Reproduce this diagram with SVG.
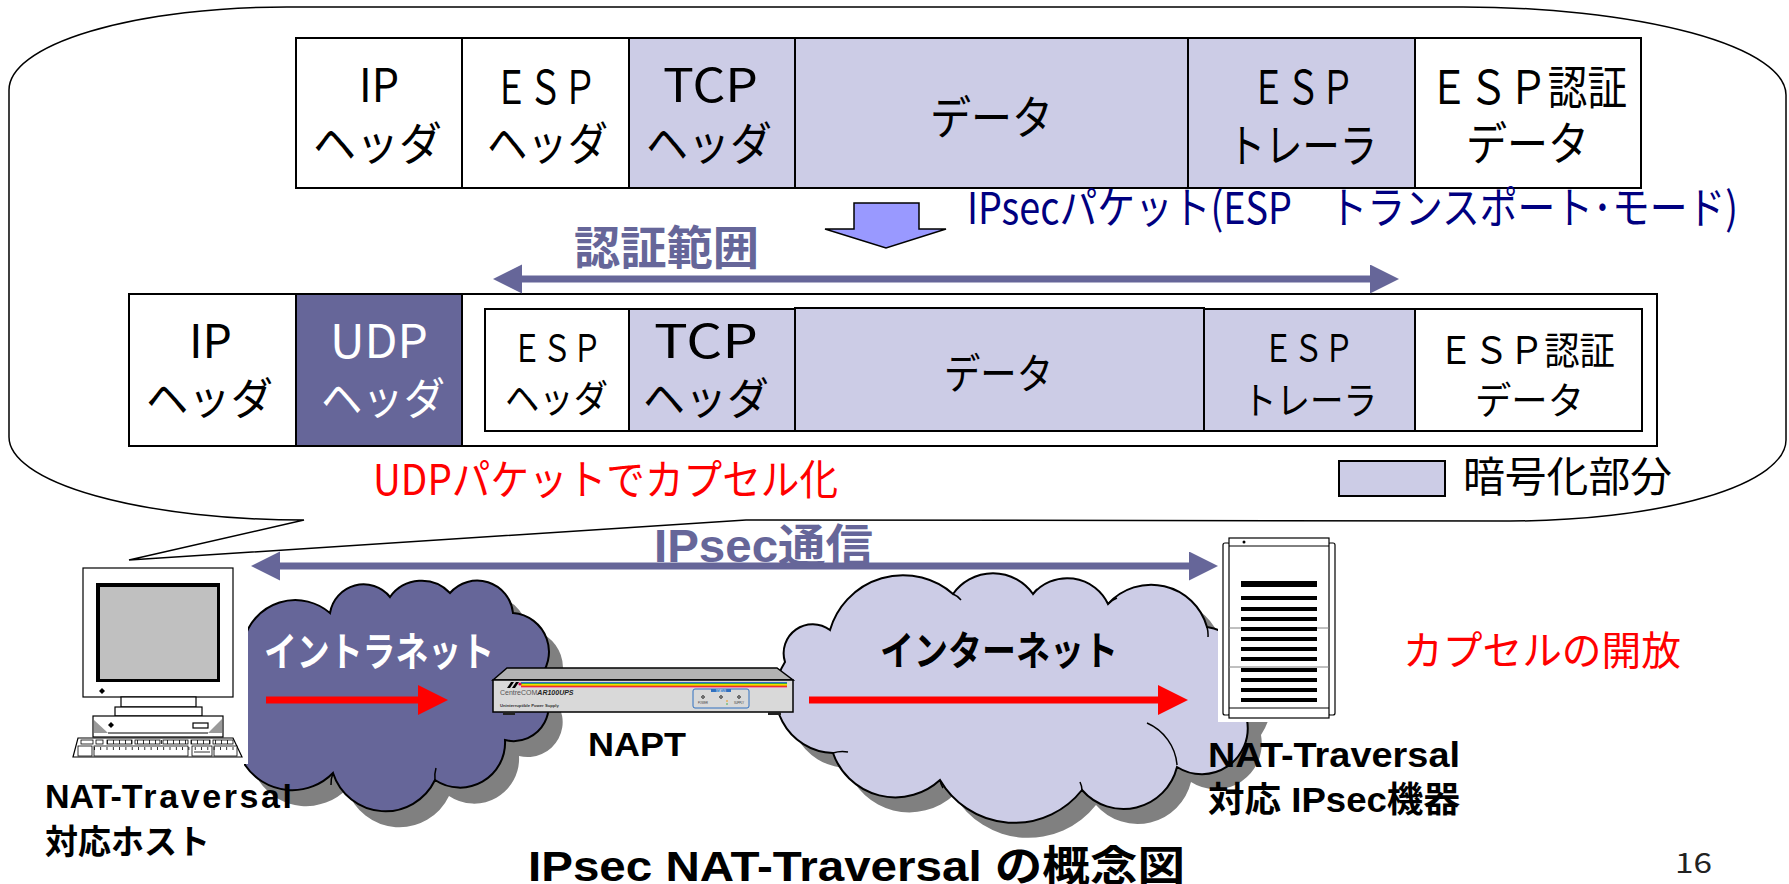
<svg xmlns="http://www.w3.org/2000/svg" width="1789" height="884" viewBox="0 0 1789 884">
<style>
  .cell{stroke:#000;stroke-width:2}
  .enc{fill:#CCCCE6}
  .wh{fill:#fff}
  .jp{font-family:"Noto Sans CJK JP","Liberation Sans",sans-serif}
  .bd{font-family:"Liberation Sans","Noto Sans CJK JP",sans-serif;font-weight:bold}
  .jb{font-family:"Noto Sans CJK JP","Liberation Sans",sans-serif;font-weight:bold}
  .ln{fill:none;stroke:#000;stroke-width:1.5}
  .thin{fill:#fff;stroke:#000;stroke-width:1.2}
</style>
<defs>
  <marker id="headP" markerUnits="userSpaceOnUse" markerWidth="30" markerHeight="30" refX="3" refY="14.5" orient="auto-start-reverse">
    <path d="M0,0 L29,14.5 L0,29 Z" fill="#666699"/>
  </marker>
  <marker id="headR" markerUnits="userSpaceOnUse" markerWidth="31" markerHeight="31" refX="3" refY="15" orient="auto">
    <path d="M0,0 L30,15 L0,30 Z" fill="#FF0000"/>
  </marker>
  <!-- cloud outlines, reused for the drop shadows -->
  <path id="cloudIntra" d="M244,640 A53,53 0 0 1 330,613 A34,34 0 0 1 390,597 A39,39 0 0 1 450,593 A36,36 0 0 1 513,613 A39,39 0 0 1 537,680 A35,35 0 0 1 505,740 A45,45 0 0 1 435,780 A55,55 0 0 1 333,773 A57,57 0 0 1 245,765 Z"/>
  <path id="cloudInet" d="M785,662 A29,29 0 0 1 830,630 A76,76 0 0 1 953,594 A49,49 0 0 1 1033,594 A45,45 0 0 1 1108,604 A58,58 0 0 1 1207,627 A60,60 0 0 1 1247,720 A46,46 0 0 1 1177,767 A55,55 0 0 1 1082,790 A86,86 0 0 1 940,780 A66,66 0 0 1 833,753 A59,59 0 0 1 785,662 Z"/>
</defs>

<rect width="1789" height="884" fill="#fff"/>

<!-- speech bubble holding the packet layouts -->
<g id="callout">
  <path d="M129,560 L304,520 A295,83 0 0 1 9,437 L9,90 A278,83 0 0 1 287,7 L1463,7 A323,88 0 0 1 1786,95 L1786,440 A276,81 0 0 1 1510,521 L746,520 Z" fill="#fff" stroke="#000" stroke-width="1.5"/>
</g>

<!-- ESP transport mode packet -->
<g id="esp-packet">
  <rect class="cell wh" x="296" y="38" width="166" height="150"/>
  <rect class="cell wh" x="462" y="38" width="167" height="150"/>
  <rect class="cell enc" x="629" y="38" width="166" height="150"/>
  <rect class="cell enc" x="795" y="38" width="393" height="150"/>
  <rect class="cell enc" x="1188" y="38" width="227" height="150"/>
  <rect class="cell wh" x="1415" y="38" width="226" height="150"/>
  <g class="jp" font-size="46" fill="#000">
    <text><tspan x="359" y="102" textLength="40" lengthAdjust="spacingAndGlyphs">IP</tspan><tspan x="313" y="160" textLength="129" lengthAdjust="spacingAndGlyphs">ヘッダ</tspan></text>
    <text><tspan x="494" y="104" textLength="103" lengthAdjust="spacingAndGlyphs">ＥＳＰ</tspan><tspan x="487" y="160" textLength="121" lengthAdjust="spacingAndGlyphs">ヘッダ</tspan></text>
    <text><tspan x="663" y="102" textLength="95" lengthAdjust="spacingAndGlyphs">TCP</tspan><tspan x="646" y="160" textLength="126" lengthAdjust="spacingAndGlyphs">ヘッダ</tspan></text>
    <text x="930" y="134" textLength="123" lengthAdjust="spacingAndGlyphs">データ</text>
    <text><tspan x="1251" y="104" textLength="104" lengthAdjust="spacingAndGlyphs">ＥＳＰ</tspan><tspan x="1228" y="162" textLength="149" lengthAdjust="spacingAndGlyphs">トレーラ</tspan></text>
    <text><tspan x="1429" y="104" textLength="198" lengthAdjust="spacingAndGlyphs">ＥＳＰ認証</tspan><tspan x="1466" y="160" textLength="123" lengthAdjust="spacingAndGlyphs">データ</tspan></text>
  </g>
  <text class="jp" x="967" y="224" font-size="44" fill="#000080" textLength="771" lengthAdjust="spacingAndGlyphs">IPsecパケット(ESP　トランスポート･モード)</text>
</g>

<!-- range label -->
<g id="auth-range-label">
  <text class="jb" x="574" y="264" font-size="46" fill="#666699" textLength="185" lengthAdjust="spacingAndGlyphs">認証範囲</text>
</g>

<!-- UDP encapsulated packet -->
<g id="udp-packet">
  <rect class="cell wh" x="129" y="294" width="1528" height="152"/>
  <rect class="cell wh" x="129" y="294" width="167" height="152"/>
  <rect class="cell" fill="#666699" x="296" y="294" width="166" height="152"/>
  <rect class="cell wh" x="485" y="309" width="144" height="122"/>
  <rect class="cell enc" x="629" y="309" width="166" height="122"/>
  <rect class="cell enc" x="795" y="308" width="409" height="123"/>
  <rect class="cell enc" x="1204" y="309" width="211" height="122"/>
  <rect class="cell wh" x="1415" y="309" width="227" height="122"/>
  <g class="jp" fill="#000">
    <text font-size="46"><tspan x="189" y="358" textLength="43" lengthAdjust="spacingAndGlyphs">IP</tspan><tspan x="146" y="415" font-size="44" textLength="127" lengthAdjust="spacingAndGlyphs">ヘッダ</tspan></text>
    <text font-size="46" fill="#fff"><tspan x="330" y="358" textLength="98" lengthAdjust="spacingAndGlyphs">UDP</tspan><tspan x="321" y="415" font-size="44" textLength="124" lengthAdjust="spacingAndGlyphs">ヘッダ</tspan></text>
    <text font-size="38"><tspan x="512" y="362" textLength="90" lengthAdjust="spacingAndGlyphs">ＥＳＰ</tspan><tspan x="505" y="412" textLength="103" lengthAdjust="spacingAndGlyphs">ヘッダ</tspan></text>
    <text font-size="46"><tspan x="654" y="358" textLength="104" lengthAdjust="spacingAndGlyphs">TCP</tspan><tspan x="643" y="415" font-size="44" textLength="126" lengthAdjust="spacingAndGlyphs">ヘッダ</tspan></text>
    <text x="944" y="389" font-size="42" textLength="109" lengthAdjust="spacingAndGlyphs">データ</text>
    <text font-size="38"><tspan x="1263" y="362" textLength="91" lengthAdjust="spacingAndGlyphs">ＥＳＰ</tspan><tspan x="1243" y="414" textLength="134" lengthAdjust="spacingAndGlyphs">トレーラ</tspan></text>
    <text font-size="38"><tspan x="1438" y="364" textLength="177" lengthAdjust="spacingAndGlyphs">ＥＳＰ認証</tspan><tspan x="1475" y="414" textLength="109" lengthAdjust="spacingAndGlyphs">データ</tspan></text>
  </g>
  <text class="jp" x="373" y="495" font-size="42" fill="#FF0000" textLength="465" lengthAdjust="spacingAndGlyphs">UDPパケットでカプセル化</text>
</g>

<!-- legend -->
<g id="legend">
  <rect class="cell enc" x="1339" y="461" width="106" height="35"/>
  <text class="jp" x="1463" y="492" font-size="42" fill="#000" textLength="209" lengthAdjust="spacingAndGlyphs">暗号化部分</text>
</g>

<!-- intranet cloud -->
<g id="intranet">
  <use href="#cloudIntra" fill="#808080" transform="translate(14,16)"/>
  <use href="#cloudIntra" fill="#666699" stroke="#000" stroke-width="2"/>
  <path class="ln" d="M333,773 a30,30 0 0 0 -2,12 M435,780 a30,30 0 0 1 1,-12"/>
  <text class="jb" x="264" y="666" font-size="40" fill="#fff" textLength="230" lengthAdjust="spacingAndGlyphs">イントラネット</text>
</g>

<!-- internet cloud -->
<g id="internet">
  <use href="#cloudInet" fill="#808080" transform="translate(14,15)"/>
  <use href="#cloudInet" fill="#CCCCE6" stroke="#000" stroke-width="2"/>
  <path class="ln" d="M1147,723 A50,50 0 0 1 1177,765 M953,594 a20,20 0 0 1 8,6 M1033,594 a20,20 0 0 1 4,-5 M1108,604 a25,25 0 0 1 9,-6 M1207,627 a30,30 0 0 1 1,10 M1082,790 a20,20 0 0 0 -2,-8 M940,780 a20,20 0 0 0 3,8 M833,753 a30,30 0 0 1 15,-1"/>
  <text class="jb" x="880" y="665" font-size="40" fill="#000" textLength="238" lengthAdjust="spacingAndGlyphs">インターネット</text>
</g>

<!-- NAT-Traversal host (desktop computer) -->
<g id="host">
  <rect x="70" y="566" width="178" height="198" fill="#fff"/>
  <rect class="thin" x="83" y="568" width="150" height="129" stroke-width="1.5"/>
  <rect x="96" y="583" width="124" height="99" fill="#000"/>
  <rect x="100" y="587" width="117" height="92" fill="#c0c0c0"/>
  <path d="M102,688 l3,3 l-3,3 l-3,-3z" fill="#000"/>
  <rect class="thin" x="121" y="697" width="75" height="10"/>
  <rect class="thin" x="115" y="707" width="87" height="9"/>
  <rect class="thin" x="93" y="716" width="130" height="21"/>
  <path d="M94,720 L108,733 L94,733 Z" fill="#9a9a9a"/>
  <path d="M222,719 L208,733 L222,733 Z" fill="#9a9a9a"/>
  <line x1="108" y1="733" x2="208" y2="733" stroke="#000" stroke-width="1"/>
  <rect class="thin" x="193" y="723" width="15" height="5"/>
  <path d="M111,722 l3,3 l-3,3 l-3,-3z" fill="#000"/>
  <path class="thin" d="M78,738 L233,738 L242,757 L73,757 Z"/>
  <g fill="#fff" stroke="#000" stroke-width="0.8">
    <rect x="81" y="740" width="12" height="4"/>
    <rect x="96" y="740" width="7" height="4"/>
    <rect x="107" y="740" width="25" height="4"/>
    <rect x="135" y="740" width="25" height="4"/>
    <rect x="163" y="740" width="25" height="4"/>
    <rect x="191" y="740" width="19" height="4"/>
    <rect x="213" y="740" width="20" height="4"/>
    <rect x="78" y="746" width="14" height="10"/>
    <rect x="94" y="746" width="94" height="10"/>
    <rect x="192" y="746" width="20" height="10"/>
    <rect x="214" y="746" width="23" height="10"/>
  </g>
  <line x1="107" y1="742" x2="233" y2="742" stroke="#000" stroke-width="4" stroke-dasharray="0.8 5.2"/>
  <line x1="94" y1="748.5" x2="237" y2="748.5" stroke="#000" stroke-width="3" stroke-dasharray="0.8 5.5"/>
  <line x1="194" y1="752" x2="210" y2="752" stroke="#000" stroke-width="0.8"/>
  <text class="bd" font-size="34" fill="#000"><tspan x="45" y="808">NAT-</tspan><tspan letter-spacing="2.6">Traversal</tspan><tspan x="45" y="854" class="jb" textLength="165" lengthAdjust="spacingAndGlyphs">対応ホスト</tspan></text>
</g>

<!-- NAPT router -->
<g id="napt">
  <polygon points="493,680 507,668 777,668 793,680" fill="#b3b3b3" stroke="#000" stroke-width="1.5"/>
  <rect x="493" y="680" width="300" height="32" fill="#d9d9d9" stroke="#000" stroke-width="1.5"/>
  <rect x="503" y="712" width="12" height="3" fill="#222"/>
  <rect x="768" y="712" width="13" height="3" fill="#222"/>
  <g stroke-width="1">
    <line x1="521" y1="682.5" x2="787" y2="682.5" stroke="#3366cc"/>
    <line x1="521" y1="683.5" x2="787" y2="683.5" stroke="#33aa44"/>
    <line x1="521" y1="684.5" x2="787" y2="684.5" stroke="#eedd00"/>
    <line x1="521" y1="685.5" x2="787" y2="685.5" stroke="#f0a000"/>
    <line x1="521" y1="686.5" x2="787" y2="686.5" stroke="#e83030"/>
    <line x1="521" y1="687.5" x2="787" y2="687.5" stroke="#f08cb0"/>
  </g>
  <path d="M507,688 L511,682 L514,682 L510,688Z M512,688 L516,682 L519,682 L515,688Z" fill="#000"/>
  <circle cx="520" cy="684" r="1.6" fill="#e0004a"/>
  <text x="500" y="695" font-family="Liberation Sans,sans-serif" font-size="7" fill="#555">CentreCOM<tspan font-weight="bold" font-style="italic" fill="#222">AR100UPS</tspan></text>
  <text x="500" y="707" font-family="Liberation Sans,sans-serif" font-size="4.2" font-weight="bold" fill="#333">Uninterruptible Power Supply</text>
  <rect x="693" y="689" width="56" height="19" rx="2" fill="none" stroke="#3070c0" stroke-width="1"/>
  <rect x="711" y="689" width="20" height="3" fill="#3070c0"/>
  <text x="721" y="691.6" font-family="Liberation Sans,sans-serif" font-size="2.6" fill="#fff" text-anchor="middle">STATUS</text>
  <g fill="none" stroke="#000" stroke-width="0.8">
    <circle cx="703" cy="697" r="1.3"/>
    <circle cx="721" cy="697" r="1.3"/>
    <circle cx="739" cy="697" r="1.3"/>
  </g>
  <circle cx="727" cy="701" r="0.8" fill="#f09000"/>
  <circle cx="727" cy="704" r="0.8" fill="#33aa44"/>
  <text font-family="Liberation Sans,sans-serif" font-size="2.6" fill="#333" text-anchor="middle"><tspan x="703" y="704">POWER</tspan><tspan x="739" y="704">SUPPLY</tspan></text>
  <text class="bd" x="588" y="756" font-size="33" fill="#000" textLength="98" lengthAdjust="spacingAndGlyphs">NAPT</text>
</g>

<!-- NAT-Traversal capable IPsec gateway (tower server) -->
<g id="gateway">
  <rect x="1218" y="536" width="119" height="186" fill="#fff"/>
  <rect class="thin" x="1223" y="543" width="7" height="172" rx="2"/>
  <rect class="thin" x="1328" y="543" width="7" height="172" rx="2"/>
  <rect class="thin" x="1229" y="538" width="100" height="180" stroke-width="1.5"/>
  <line x1="1229" y1="546" x2="1329" y2="546" stroke="#000" stroke-width="1"/>
  <line x1="1229" y1="708" x2="1329" y2="708" stroke="#000" stroke-width="1"/>
  <line x1="1229" y1="628" x2="1329" y2="628" stroke="#808080" stroke-width="1"/>
  <line x1="1229" y1="667" x2="1329" y2="667" stroke="#808080" stroke-width="1"/>
  <circle cx="1244" cy="542" r="1.5" fill="#000"/>
  <g fill="#000">
    <rect x="1241" y="581" width="76" height="6"/>
    <rect x="1241" y="596" width="76" height="4"/>
    <rect x="1241" y="607" width="76" height="4"/>
    <rect x="1241" y="617" width="76" height="4"/>
    <rect x="1241" y="627" width="76" height="4"/>
    <rect x="1241" y="637" width="76" height="4"/>
    <rect x="1241" y="647" width="76" height="4"/>
    <rect x="1241" y="657" width="76" height="4"/>
    <rect x="1241" y="668" width="76" height="4"/>
    <rect x="1241" y="678" width="76" height="4"/>
    <rect x="1241" y="688" width="76" height="4"/>
    <rect x="1241" y="698" width="76" height="4"/>
  </g>
  <text class="bd" font-size="35" fill="#000"><tspan x="1208" y="767" textLength="252" lengthAdjust="spacingAndGlyphs">NAT-Traversal</tspan><tspan x="1208" y="812" textLength="252" lengthAdjust="spacingAndGlyphs">対応 IPsec機器</tspan></text>
  <text class="jp" x="1403" y="665" font-size="40" fill="#FF0000" textLength="278" lengthAdjust="spacingAndGlyphs">カプセルの開放</text>
</g>

<!-- tunnel label -->
<g id="ipsec-label">
  <text class="bd" x="654" y="562" font-size="46" fill="#666699" textLength="219" lengthAdjust="spacingAndGlyphs">IPsec通信</text>
</g>

<!-- caption and page number -->
<g id="caption">
  <text class="bd" x="528" y="881" font-size="42" fill="#000" textLength="657" lengthAdjust="spacingAndGlyphs">IPsec NAT-Traversal の概念図</text>
  <text class="jp" x="1675" y="873" font-size="28" fill="#222" textLength="37" lengthAdjust="spacingAndGlyphs">16</text>
</g>

<!-- connectors -->
<g id="connectors">
  <polygon points="854,203 919,203 919,229 946,229 886,248 825,229 854,229" fill="#9999FF" stroke="#000" stroke-width="1.5"/>
  <line x1="519" y1="279" x2="1373" y2="279" stroke="#666699" stroke-width="7" marker-start="url(#headP)" marker-end="url(#headP)"/>
  <line x1="277" y1="566" x2="1192" y2="566" stroke="#666699" stroke-width="7" marker-start="url(#headP)" marker-end="url(#headP)"/>
  <line x1="266" y1="700" x2="421" y2="700" stroke="#FF0000" stroke-width="7" marker-end="url(#headR)"/>
  <line x1="809" y1="700" x2="1161" y2="700" stroke="#FF0000" stroke-width="7" marker-end="url(#headR)"/>
</g>
</svg>
